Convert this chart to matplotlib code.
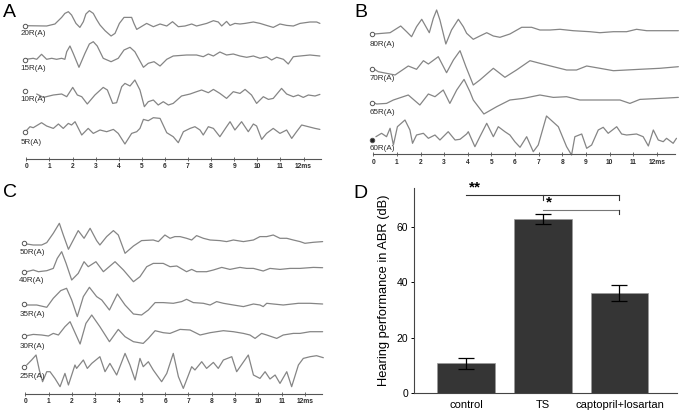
import numpy as np
import matplotlib.pyplot as plt

plt.rcParams['font.family'] = ['Liberation Sans', 'DejaVu Sans']

W, H = 681, 416

# ABR traces: (time ms, amplitude), amplitude in px above baseline
# panel A
a20 = [(0, 0), (0.88, -0.3), (1.24, 1.7), (1.53, 8.3), (1.67, 12.3), (1.82, 14.0), (1.96, 10.7),
       (2.15, 2.3), (2.32, -1.7), (2.47, 4.0), (2.58, 11.7), (2.73, 15.0), (2.90, 12.3), (3.04, 6.3),
       (3.19, 0.7), (3.41, -5.0), (3.67, -10.3), (3.84, -7.7), (4.03, 2.3), (4.23, 8.3), (4.56, 8.3),
       (4.66, 2.3), (4.78, -3.7), (5.21, 2.3), (5.50, -1.0), (5.79, 1.7), (6.08, -0.3), (6.33, 4.0),
       (6.58, -1.0), (6.87, -0.3), (7.16, 1.7), (7.37, -0.3), (7.59, 1.0), (7.81, 2.3), (8.10, 5.0),
       (8.31, 3.7), (8.46, -0.3), (8.67, 4.3), (8.82, 0.3), (9.03, 2.3), (9.25, 1.7), (9.47, 2.3),
       (9.83, 3.7), (10.12, 2.3), (10.40, 0.3), (10.69, -1.7), (10.98, 1.7), (11.27, 0.3),
       (11.56, -0.3), (11.85, 2.3), (12.28, 3.7), (12.57, 3.7), (12.71, 2.3)]
a15 = [(0, 0.7), (0.30, 1.7), (0.45, 0.7), (0.66, 5.7), (0.88, 0.7), (1.10, 1.7), (1.31, 0.7),
       (1.53, 1.7), (1.67, 0.7), (1.75, 8.3), (1.89, 14.0), (2.03, 6.7), (2.28, -7.3), (2.54, 6.7),
       (2.73, 16.0), (2.90, 18.3), (3.07, 14.0), (3.33, 1.7), (3.67, -1.7), (3.98, 1.7), (4.23, 10.0),
       (4.49, 12.7), (4.70, 8.3), (5.07, -7.3), (5.28, -3.3), (5.53, -1.7), (5.79, -6.0), (6.08, 0.7),
       (6.36, 4.0), (6.94, 5.0), (7.37, 5.0), (7.66, 3.3), (7.88, 6.0), (8.10, 4.0), (8.38, 8.0),
       (8.67, 5.0), (8.96, 6.0), (9.25, 4.0), (9.54, 2.7), (9.83, 4.0), (10.12, 1.7), (10.40, 3.3),
       (10.62, 0), (10.84, 2.7), (11.13, 0.7), (11.34, -4.0), (11.56, 3.3), (11.85, 4.0),
       (12.28, 5.0), (12.71, 4.0)]
a10 = [(0.45, -3.3), (0.74, -6.7), (1.17, -4.3), (1.53, -3.3), (1.75, -6.0), (2.01, 3.3),
       (2.21, -4.3), (2.40, -6.0), (2.64, -13.3), (2.97, -4.3), (3.33, 3.3), (3.51, 0.7),
       (3.74, -12.7), (3.91, -12.0), (4.13, 4.0), (4.27, 7.3), (4.49, 4.7), (4.70, 10.7),
       (4.92, 0.7), (5.11, -16.0), (5.28, -11.0), (5.50, -9.3), (5.71, -14.3), (5.93, -11.0),
       (6.15, -14.3), (6.36, -12.7), (6.72, -5.3), (7.09, -3.3), (7.37, -1.0), (7.59, 0.7),
       (7.88, -2.0), (8.10, 1.3), (8.38, -2.7), (8.67, -7.7), (8.96, -1.0), (9.25, -2.7),
       (9.47, 1.3), (9.75, -4.3), (9.97, -12.7), (10.26, -6.0), (10.48, -8.7), (10.69, -7.7),
       (11.05, 2.3), (11.27, -3.3), (11.56, -6.0), (11.77, -4.3), (11.99, -6.7), (12.21, -4.3),
       (12.50, -5.3), (12.71, -3.7)]
a5 = [(0, 1.0), (0.16, 5.0), (0.30, 4.0), (0.66, 9.0), (0.88, 5.7), (1.17, 3.3), (1.39, 7.7),
      (1.60, 3.3), (1.82, 8.3), (1.96, 6.7), (2.11, 10.0), (2.40, -3.3), (2.68, 3.3), (2.90, -1.7),
      (3.19, 1.7), (3.48, 0), (3.77, 2.3), (3.98, -1.7), (4.27, -12.3), (4.56, -1.7), (4.78, 0),
      (4.92, 3.3), (5.07, 12.3), (5.28, 11.0), (5.50, 14.0), (5.79, 13.3), (6.08, -1.0),
      (6.36, -5.0), (6.58, -11.0), (6.80, 0), (7.09, 3.3), (7.30, 5.0), (7.52, 1.7), (7.66, -3.3),
      (7.88, 5.0), (8.10, 3.3), (8.38, -5.0), (8.67, 5.0), (8.82, 10.0), (9.03, 1.7), (9.32, 10.0),
      (9.61, 0), (9.83, 7.7), (9.97, 5.7), (10.19, -7.7), (10.40, -1.7), (10.69, 3.3),
      (10.98, -1.7), (11.27, 1.7), (11.49, -6.7), (11.70, 0), (11.92, 6.7), (12.21, 5.0),
      (12.50, 3.3), (12.71, 2.3)]

# panel B
b80 = [(0.03, 0), (0.71, 1.3), (1.16, 8.0), (1.41, 2.3), (1.62, -2.7), (1.83, 7.3), (2.05, 14.7),
       (2.37, 1.3), (2.54, 15.7), (2.68, 24.0), (2.82, 14.0), (3.07, -10.0), (3.31, 4.0),
       (3.60, 14.7), (3.81, 7.3), (3.95, 0.7), (4.23, -5.3), (4.51, -2.0), (4.80, 1.3), (5.08, -2.0),
       (5.36, -3.3), (5.78, 0), (6.28, 6.7), (6.70, 6.7), (7.05, 4.0), (7.48, 4.0), (7.90, 4.7),
       (8.46, 3.3), (9.17, 2.3), (9.59, 1.3), (10.16, 2.3), (10.72, 2.3), (11.14, 4.7),
       (11.57, 3.3), (12.13, 3.3), (12.91, 3.3)]
b70 = [(0.03, 0), (0.21, -2.7), (0.92, -6.0), (1.48, 3.0), (1.83, -0.3), (2.12, 8.3), (2.33, 5.0),
       (2.75, 12.3), (3.10, -3.7), (3.39, 9.0), (3.67, 18.3), (3.92, 2.3), (4.23, -16.0),
       (4.51, -11.0), (5.08, 0.7), (5.57, -8.3), (6.06, -1.0), (6.63, 8.3), (7.05, 5.7),
       (7.62, 2.3), (8.18, -1.0), (8.60, -1.0), (9.03, 3.0), (9.59, 0.7), (10.16, -1.7),
       (10.72, -1.0), (11.28, -0.3), (12.13, 0.7), (12.91, 2.3)]
b65 = [(0.03, 0), (0.14, -1.3), (0.56, -0.7), (0.85, 2.7), (1.48, 7.7), (1.97, -2.3), (2.33, 8.7),
       (2.61, 6.0), (2.96, 12.7), (3.24, -0.7), (3.53, 12.7), (3.84, 23.3), (4.09, 11.0),
       (4.23, 2.7), (4.68, -11.3), (5.22, -4.0), (5.78, 2.7), (6.35, 4.3), (7.05, 7.7), (7.62, 5.3),
       (8.18, 6.0), (8.74, 2.7), (9.31, 2.7), (9.87, 2.7), (10.44, 2.7), (10.86, -0.7),
       (11.28, 3.3), (12.13, 4.3), (12.91, 5.3)]
b60 = [(0.11, 3.3), (0.35, 6.7), (0.56, 3.3), (0.71, 11.7), (0.85, -5.0), (1.02, 13.3),
       (1.34, 20.0), (1.55, 10.0), (1.66, -3.3), (1.83, 5.0), (2.12, 6.7), (2.33, 1.7), (2.61, 5.0),
       (2.82, 0), (3.17, 8.3), (3.46, 0), (3.67, 0.7), (3.95, 6.0), (4.02, 8.3), (4.30, -6.7),
       (4.51, 3.3), (4.80, 16.7), (5.08, 3.3), (5.29, 13.3), (5.57, 8.3), (5.78, 5.0), (5.99, -1.7),
       (6.21, -7.3), (6.49, 3.3), (6.77, -11.7), (6.98, -5.0), (7.33, 24.0), (7.83, 13.3),
       (8.18, -6.7), (8.39, -15.0), (8.53, 3.3), (8.82, 6.0), (9.03, -8.3), (9.24, -5.0),
       (9.52, 10.0), (9.73, 12.7), (9.94, 6.7), (10.30, 13.3), (10.51, 6.0), (10.72, 5.0),
       (11.14, 6.0), (11.42, 3.3), (11.64, -6.0), (11.85, 10.0), (12.06, 0), (12.27, -1.7),
       (12.41, 1.7), (12.69, -3.3), (12.83, 1.7)]

# panel C
c50 = [(0.06, -0.7), (0.34, -1.7), (0.70, -1.7), (0.92, 0.7), (1.20, 10.0), (1.46, 20.0),
       (1.63, 8.3), (1.85, -6.0), (2.27, 12.7), (2.52, 5.0), (2.78, 15.0), (3.06, 2.7),
       (3.20, -1.7), (3.49, 6.7), (3.78, 12.7), (3.99, 8.3), (4.28, -10.0), (4.64, -2.7),
       (4.99, 2.7), (5.49, 3.3), (5.71, 1.7), (5.99, 8.3), (6.21, 5.0), (6.42, 6.7), (6.64, 6.7),
       (6.92, 5.0), (7.14, 3.3), (7.35, 7.7), (7.64, 5.0), (7.93, 3.3), (8.35, 2.7), (8.64, 1.7),
       (8.93, 3.3), (9.36, 1.7), (9.79, 3.3), (10.07, 6.7), (10.36, 6.7), (10.64, 8.3),
       (10.93, 5.0), (11.22, 5.0), (11.50, 3.3), (11.79, 1.7), (12.00, 0), (12.36, 1.0),
       (12.76, 1.7)]
c40 = [(0.06, 0), (0.34, 1.7), (0.56, 0), (0.92, 1.0), (1.20, 3.3), (1.37, 13.3), (1.56, 20.0),
       (1.75, 8.3), (1.99, -8.3), (2.27, -1.7), (2.52, 10.0), (2.70, 5.0), (3.03, 10.0),
       (3.35, 0), (3.85, 10.0), (4.21, 1.7), (4.64, -10.0), (4.92, -5.0), (5.21, 5.0), (5.49, 8.3),
       (5.92, 8.3), (6.21, 5.0), (6.50, 5.7), (6.92, 0), (7.14, 2.3), (7.35, 0), (7.78, 0),
       (8.07, 1.7), (8.43, 4.3), (8.78, 2.3), (9.21, 4.3), (9.50, 3.3), (9.79, 3.3), (10.21, 0.7),
       (10.50, 3.3), (10.93, 2.3), (11.36, 3.3), (11.79, 3.3), (12.36, 4.3), (12.76, 4.0)]
c35 = [(0.06, -0.7), (0.49, -0.7), (0.92, -3.0), (1.20, 6.0), (1.52, 13.7), (1.77, 16.0),
       (1.99, 4.3), (2.23, -12.3), (2.49, 7.7), (2.75, 17.0), (3.06, 7.7), (3.28, 4.3),
       (3.61, -5.7), (3.95, 10.3), (4.28, -0.7), (4.64, -9.7), (4.99, -10.7), (5.28, -5.7),
       (5.57, 1.7), (5.92, 1.7), (6.35, 1.0), (6.71, 2.7), (6.92, 5.0), (7.21, 1.7), (7.64, 1.0),
       (7.93, -0.7), (8.21, 2.7), (8.50, 1.0), (8.93, -0.7), (9.36, -2.3), (9.79, 0.3),
       (10.07, -0.7), (10.21, -2.3), (10.36, 1.0), (10.64, 0.3), (11.07, -0.7), (11.72, 1.0),
       (12.22, 1.0), (12.76, 0.3)]
c30 = [(0.06, 0), (0.34, 1.3), (0.70, 0.7), (0.99, -0.3), (1.20, 2.3), (1.42, 0.7), (1.70, 9.0),
       (1.92, 14.0), (2.35, -8.3), (2.60, 12.3), (2.85, 20.7), (3.20, 9.0), (3.61, -6.0),
       (3.99, 6.3), (4.28, -1.0), (4.64, -6.0), (5.06, -7.7), (5.28, -2.7), (5.57, 5.0),
       (5.92, 3.0), (6.21, 2.3), (6.64, 6.3), (7.07, 5.7), (7.50, 0.7), (7.93, 3.0), (8.21, 4.0),
       (8.50, 5.0), (8.93, 4.0), (9.36, 2.3), (9.64, 0.7), (9.86, -2.7), (10.14, 2.3),
       (10.36, 0.7), (10.79, -2.7), (11.07, 0.7), (11.50, 2.3), (11.79, 2.3), (12.22, 4.0),
       (12.76, 4.0)]
c25 = [(0.06, 1.7), (0.27, 6.7), (0.46, 11.7), (0.60, -3.3), (0.74, -15.0), (0.92, -5.0),
       (1.06, -5.0), (1.27, -11.7), (1.49, -20.0), (1.70, -6.7), (1.85, -18.3), (2.13, 1.7),
       (2.20, -1.7), (2.49, 6.7), (2.66, -1.7), (2.85, 3.3), (3.20, 10.0), (3.42, -5.0),
       (3.63, 3.3), (3.92, -8.3), (4.28, 13.3), (4.49, 1.7), (4.71, -13.3), (4.92, 8.3), (5.06, 0),
       (5.28, 5.0), (5.49, -3.3), (5.85, -15.0), (6.07, -6.7), (6.35, 13.3), (6.57, -10.0),
       (6.78, -21.7), (7.14, 0), (7.28, -3.3), (7.57, 5.0), (7.78, -1.7), (8.07, 4.3),
       (8.28, -1.7), (8.50, 6.7), (8.86, 10.0), (9.07, -5.0), (9.57, 11.7), (9.79, -8.3),
       (10.07, -11.7), (10.29, -5.0), (10.50, -12.3), (10.72, -8.3), (10.93, -16.7),
       (11.22, -5.0), (11.43, -20.0), (11.72, 1.7), (11.93, 8.3), (12.22, 10.0), (12.50, 11.0),
       (12.79, 9.0)]

labels_a = ['20R(A)', '15R(A)', '10R(A)', '5R(A)']
labels_b = ['80R(A)', '70R(A)', '65R(A)', '60R(A)']
labels_c = ['50R(A)', '40R(A)', '35R(A)', '30R(A)', '25R(A)']

# panel D
groups = ['control', 'TS', 'captopril+losartan']
means = [10.8, 62.8, 36.3]
errs = [2.1, 1.9, 2.9]

fig = plt.figure(figsize=(W / 100, H / 100), dpi=100)


def px_axes(x0, y0, x1, y1):
    return fig.add_axes([x0 / W, 1 - y1 / H, (x1 - x0) / W, (y1 - y0) / H])


trace_col = '#858585'
text_col = '#2b2b2b'


def abr_panel(rect, x0ms, msw, axis_y, traces, labels, bases, lab_y, filled, lab_x):
    x0, y0, x1, y1 = rect
    ax = px_axes(*rect)
    ax.set_xlim((x0 - x0ms) / msw, (x1 - x0ms) / msw)
    ax.set_ylim(y1, y0)
    for tr, lab, b, ly, f in zip(traces, labels, bases, lab_y, filled):
        d = np.array(tr)
        ax.plot(d[:, 0], b - d[:, 1], color=trace_col, lw=0.9,
                solid_joinstyle='round', solid_capstyle='round')
        ax.plot([-0.05], [b], 'o', ms=3.2, mew=0.7, mec='#555555',
                mfc='#222222' if f else 'white')
        ax.text(lab_x, ly, lab, fontsize=5.8, color=text_col, ha='left', va='center')
    for s in ['top', 'left', 'right']:
        ax.spines[s].set_visible(False)
    ax.spines['bottom'].set_position(('data', axis_y))
    ax.spines['bottom'].set_bounds(0, 12.75)
    ax.spines['bottom'].set_color('#555555')
    ax.spines['bottom'].set_linewidth(0.8)
    ax.set_yticks([])
    ax.set_xticks(range(13))
    ax.set_xticklabels([str(i) for i in range(12)] + ['12ms'])
    ax.tick_params(axis='x', length=2.5, width=0.6, direction='inout', pad=1.8,
                   labelsize=4.8, colors='#555555', labelcolor=text_col)
    for t in ax.get_xticklabels():
        t.set_fontweight('bold')
    ax.patch.set_alpha(0)
    return ax


abr_panel((0, 0, 340, 170), 26.3, 23.1, 159, [a20, a15, a10, a5], labels_a,
          [25.7, 60, 90.7, 131.7], [33.5, 68.5, 99.5, 143], [False] * 4, -0.25)
abr_panel((340, 0, 681, 170), 373.3, 23.63, 154.3, [b80, b70, b65, b60], labels_b,
          [34, 69, 102.7, 140], [44.5, 78.5, 112, 149], [False, False, False, True], -0.17)
abr_panel((0, 170, 340, 416), 25.33, 23.3, 394, [c50, c40, c35, c30, c25], labels_c,
          [243.3, 271.7, 304.3, 335.7, 366.7], [252.5, 281, 314.5, 346, 376],
          [False] * 5, -0.26)

# panel D bar chart
axd = fig.add_axes([414 / W, 1 - 393.3 / H, (677 - 414) / W, (393.3 - 188) / H])
xpos = np.arange(len(groups))
axd.bar(xpos, means, width=0.75, color='#353535', edgecolor='#9a9a9a', linewidth=0.5,
        yerr=errs, capsize=6, error_kw=dict(ecolor='black', elinewidth=0.9, capthick=0.9))
axd.set_xlim(-0.68, 2.75)
axd.set_ylim(0, 74)
axd.set_yticks([0, 20, 40, 60])
axd.set_xticks(xpos)
axd.set_xticklabels(groups)
axd.tick_params(axis='x', length=0, pad=5, labelsize=8)
axd.tick_params(axis='y', length=2.5, width=0.7, pad=1.5, labelsize=7.5)
for s in ['top', 'right']:
    axd.spines[s].set_visible(False)
for s in ['left', 'bottom']:
    axd.spines[s].set_color('#444444')
    axd.spines[s].set_linewidth(0.8)
axd.set_ylabel('Hearing performance in ABR (dB)', fontsize=9.3, labelpad=5)

# significance brackets
axd.plot([0, 2], [71.4, 71.4], color='#333333', lw=0.8)
axd.plot([1, 1], [71.4, 69.6], color='#333333', lw=0.8)
axd.plot([2, 2], [71.4, 69.6], color='#333333', lw=0.8)
axd.plot([1, 2], [66.2, 66.2], color='#777777', lw=0.8)
axd.plot([2, 2], [66.2, 64.7], color='#333333', lw=0.8)
axd.text(0.12, 71.6, '**', fontsize=11, fontweight='bold', ha='center', va='bottom')
axd.text(1.08, 66.3, '*', fontsize=11, fontweight='bold', ha='center', va='bottom')

# panel letters
for letter, x, y in [('A', 3, 17.3), ('B', 354, 17.3), ('C', 3.5, 197.3), ('D', 353.5, 198.3)]:
    fig.text(x / W, 1 - y / H, letter, fontsize=14, ha='left', va='baseline')

fig.savefig('out.png', dpi=100)
